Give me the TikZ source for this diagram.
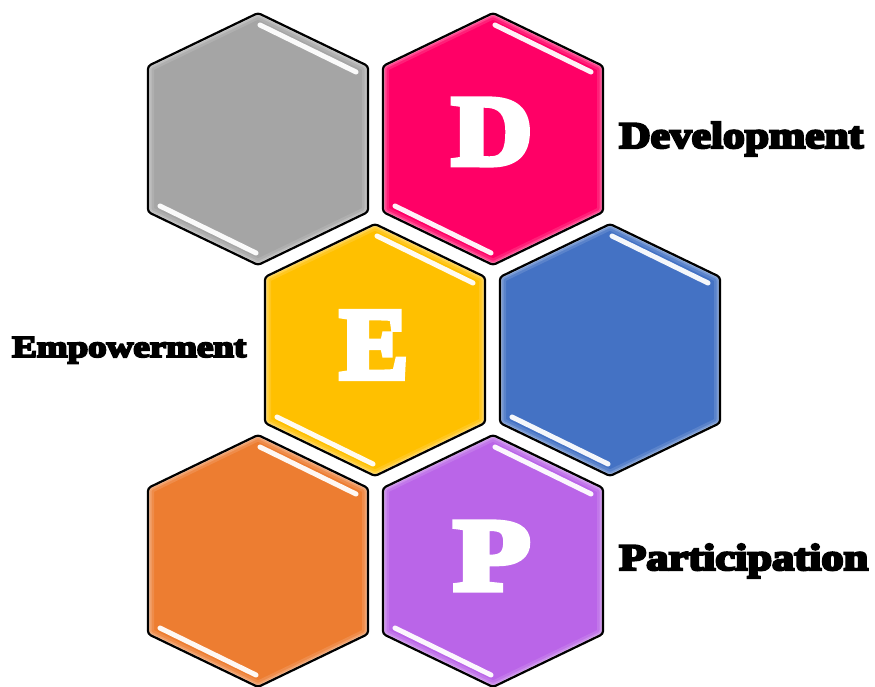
\documentclass[tikz,border=0pt]{standalone}
\usepackage{fontspec}
\newfontfamily\fatfont{Liberation Serif}[BoldFeatures={FakeBold=6}]
\begin{document}
\begin{tikzpicture}[x=1pt,y=-1pt,
  hexborder/.style={draw=black,line width=2.2pt,rounded corners=3pt},
  hexglow/.style={draw=white,rounded corners=3pt},
  shine/.style={draw=white,line width=5pt,line cap=round,opacity=0.95},
  bigletter/.style={text=white,inner sep=0pt,font=\fatfont\bfseries},
  label/.style={text=black,inner sep=0pt,anchor=base west,font=\fatfont\bfseries}]
\definecolor{hgray}{HTML}{A5A5A5}
\definecolor{hpink}{HTML}{FF0066}
\definecolor{hyellow}{HTML}{FFC000}
\definecolor{hblue}{HTML}{4472C4}
\definecolor{horange}{HTML}{ED7D31}
\definecolor{hpurple}{HTML}{BA65E8}
\useasboundingbox (0,0) rectangle (875,687);
\fill[white] (0,0) rectangle (875,687);
\newcommand{\hexa}[4]{%
 \begin{scope}[shift={(#1,#2)}]
  \coordinate (#4) at (0,0);
  \begin{scope}
   \clip[rounded corners=3pt] (0,-126) -- (110,-73) -- (110,73) -- (0,126) -- (-110,73) -- (-110,-73) -- cycle;
   \fill[#3] (-120,-130) rectangle (120,130);
   \path[hexglow,line width=12pt,opacity=0.12] (0,-126) -- (110,-73) -- (110,73) -- (0,126) -- (-110,73) -- (-110,-73) -- cycle;
   \path[hexglow,line width=7pt,opacity=0.18] (0,-126) -- (110,-73) -- (110,73) -- (0,126) -- (-110,73) -- (-110,-73) -- cycle;
   \path[hexglow,line width=3.5pt,opacity=0.3] (0,-126) -- (110,-73) -- (110,73) -- (0,126) -- (-110,73) -- (-110,-73) -- cycle;
  \end{scope}
  \path[shine] (2,-114) -- (98,-67);
  \path[shine] (-98,67) -- (-2,114);
  \path[hexborder] (0,-126) -- (110,-73) -- (110,73) -- (0,126) -- (-110,73) -- (-110,-73) -- cycle;
 \end{scope}}
\hexa{258}{139}{hgray}{hG}
\hexa{493}{139}{hpink}{hD}
\hexa{375}{350}{hyellow}{hE}
\hexa{610}{350}{hblue}{hB}
\hexa{258}{561}{horange}{hO}
\hexa{493}{561}{hpurple}{hP}
\node[bigletter] (lD) at (492,132) {\resizebox{80pt}{65pt}{D}};
\node[bigletter] (lE) at (374,345) {\resizebox{68pt}{66pt}{E}};
\node[bigletter] (lP) at (492,556) {\resizebox{76pt}{67pt}{P}};
\node[label] (tD) at (619,148) {\resizebox{244pt}{26pt}{Development}};
\node[label] (tE) at (12,357) {\resizebox{234pt}{20pt}{Empowerment}};
\node[label] (tP) at (619,570) {\resizebox{249pt}{26pt}{Participation}};
\end{tikzpicture}
\end{document}
